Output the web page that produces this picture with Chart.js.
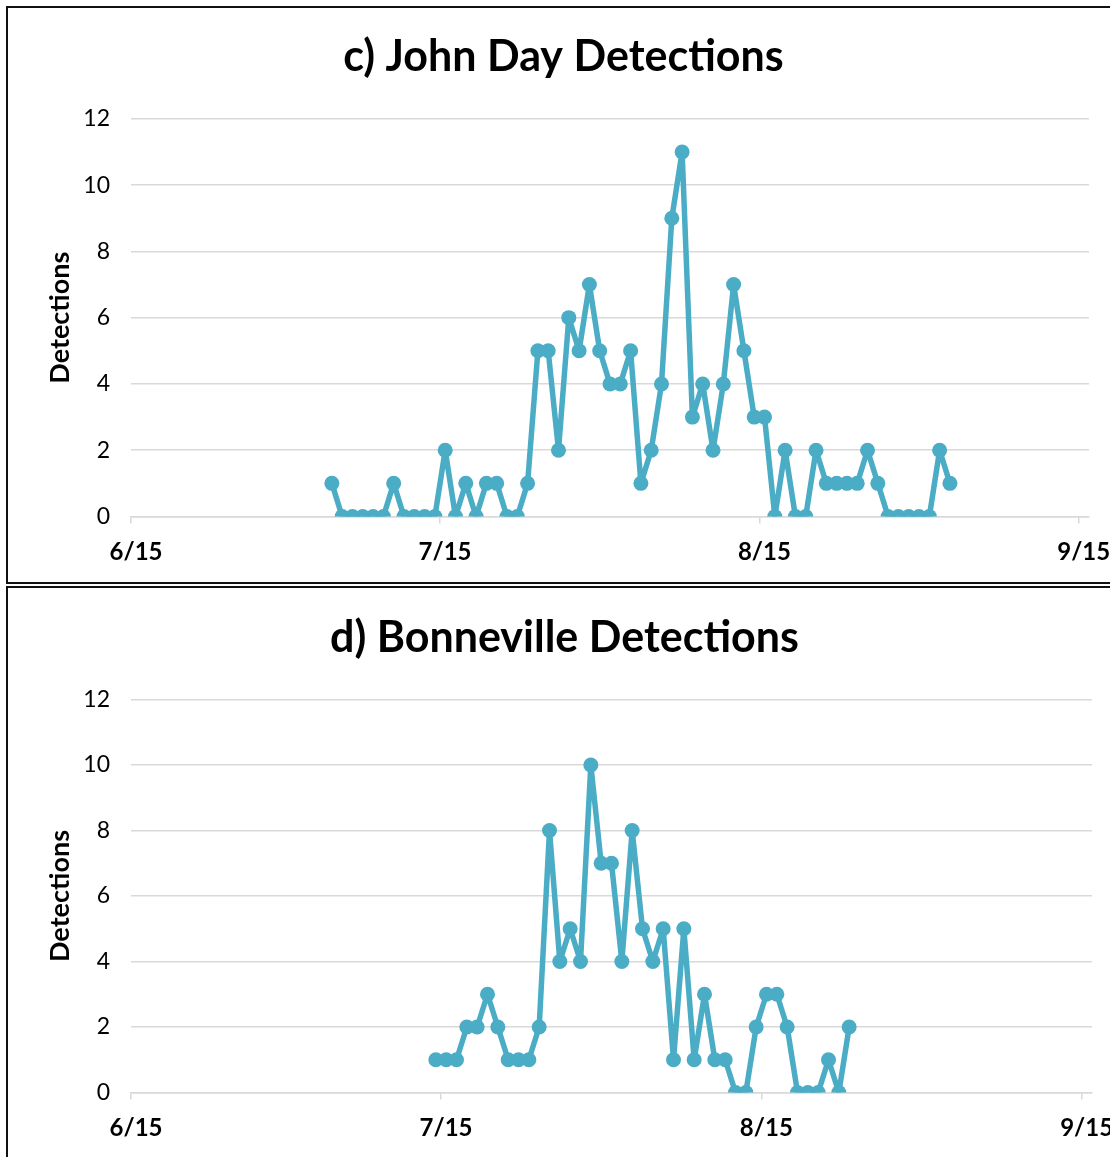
<!DOCTYPE html>
<html>
<head>
<meta charset="utf-8">
<title>John Day and Bonneville Detections</title>
<script src="https://cdn.jsdelivr.net/npm/chart.js@4.4.0/dist/chart.umd.min.js"></script>
<style>
  html, body { margin: 0; padding: 0; width: 1110px; height: 1157px; overflow: hidden; background: #fff; }
  .frame { position: absolute; box-sizing: border-box; border: 2px solid #111; }
  canvas { position: absolute; }
</style>
</head>
<body>
<div class="frame" style="left:6px;top:6px;width:1200px;height:578px"></div>
<div class="frame" style="left:6px;top:586px;width:1200px;height:700px"></div>
<canvas id="johnDay" width="1111" height="574" style="left:8px;top:8px"></canvas>
<canvas id="bonneville" width="1113" height="600" style="left:8px;top:588px"></canvas>
<script>
// Season axis: days counted from 15 June, labelled on the 15th of each month
const axisLabels = ['6/15', '7/15', '8/15', '9/15'];
const axisLabelDays = [0, 30, 61, 92];
const seasonDays = 93; // 15 June up to and including 15 September

// John Day: daily detections starting 4 July
const johnDayFirstDate = '7/4';
const johnDayCounts = [
  1, 0, 0, 0, 0, 0, 1, 0, 0, 0,
  0, 2, 0, 1, 0, 1, 1, 0, 0, 1,
  5, 5, 2, 6, 5, 7, 5, 4, 4, 5,
  1, 2, 4, 9, 11, 3, 4, 2, 4, 7,
  5, 3, 3, 0, 2, 0, 0, 2, 1, 1,
  1, 1, 2, 1, 0, 0, 0, 0, 0, 2,
  1
];

// Bonneville: daily detections starting 14 July
const bonnevilleFirstDate = '7/14';
const bonnevilleCounts = [
  1, 1, 1, 2, 2, 3, 2, 1, 1, 1,
  2, 8, 4, 5, 4, 10, 7, 7, 4, 8,
  5, 4, 5, 1, 5, 1, 3, 1, 1, 0,
  0, 2, 3, 3, 2, 0, 0, 0, 1, 0,
  2
];

const FONT = 'Lato';
const TEAL = '#4BACC6';
const GRID = '#d9d9d9';

// days elapsed since 15 June for an "m/d" date
function dayOffset(md) {
  const [m, d] = md.split('/').map(Number);
  const monthStart = { 6: -15, 7: 15, 8: 46, 9: 77 };
  return monthStart[m] + d;
}

function buildChart(id, title, firstDate, counts, box) {
  const start = dayOffset(firstDate);
  // each day's point sits in the middle of its day slot
  const points = counts.map((n, i) => ({ x: start + i + 0.5, y: n }));
  return new Chart(document.getElementById(id), {
    type: 'line',
    data: {
      datasets: [{
        data: points,
        borderColor: TEAL,
        backgroundColor: TEAL,
        pointBackgroundColor: TEAL,
        pointBorderColor: TEAL,
        borderWidth: 5.5,
        pointRadius: 7.5,
        pointBorderWidth: 0,
        tension: 0,
        borderJoinStyle: 'round',
        borderCapStyle: 'round'
      }]
    },
    options: {
      responsive: false,
      animation: false,
      devicePixelRatio: 1,
      events: [],
      layout: { padding: { left: 0, right: 0, top: 0, bottom: box.bottomPad } },
      plugins: {
        legend: { display: false },
        tooltip: { enabled: false },
        title: {
          display: true,
          text: title,
          color: '#000',
          font: { family: FONT, size: 43, weight: 'bold' },
          padding: { top: box.titleTop, bottom: box.titleBottom }
        }
      },
      scales: {
        x: {
          type: 'linear',
          min: 0,
          max: seasonDays,
          afterBuildTicks: s => { s.ticks = axisLabelDays.map(v => ({ value: v })); },
          afterFit: s => { s.height = 60; s.paddingLeft = 0; s.paddingRight = box.rightGap; },
          grid: { drawOnChartArea: false, drawTicks: true, tickLength: 7, color: GRID, lineWidth: 1.5 },
          border: { display: true, color: GRID, width: 1.5 },
          ticks: {
            autoSkip: false,
            maxRotation: 0,
            padding: 14,
            labelOffset: 5,
            color: '#000',
            font: { family: FONT, size: 24, weight: 'bold' },
            callback: v => {
              const k = axisLabelDays.indexOf(v);
              return k >= 0 ? axisLabels[k] : '';
            }
          }
        },
        y: {
          min: 0,
          max: 12,
          afterFit: s => { s.width = box.yAxisWidth; },
          ticks: { stepSize: 2, padding: 21, color: '#000', font: { family: FONT, size: 23 } },
          grid: { color: GRID, lineWidth: 1.5, drawTicks: false },
          border: { display: false },
          title: {
            display: true,
            text: 'Detections',
            color: '#000',
            font: { family: FONT, size: 27, weight: 'bold' },
            padding: { top: 35.8, bottom: 0 }
          }
        }
      }
    }
  });
}

buildChart('johnDay', 'c) John Day Detections', johnDayFirstDate, johnDayCounts,
  { yAxisWidth: 123, rightGap: 30, titleTop: 23, titleBottom: 36.2, bottomPad: 5.5 });
buildChart('bonneville', 'd) Bonneville Detections', bonnevilleFirstDate, bonnevilleCounts,
  { yAxisWidth: 123, rightGap: 29, titleTop: 24, titleBottom: 35.9, bottomPad: 35.5 });
</script>
</body>
</html>
